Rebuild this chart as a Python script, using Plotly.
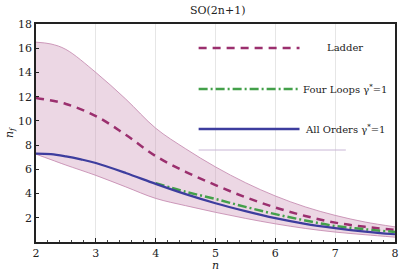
import plotly.graph_objects as go

# ---- data ----
n_band = [2, 2.25, 2.5, 3, 3.5, 4, 4.5, 5, 5.5, 6, 6.5, 7, 7.5, 8]
band_upper = [16.5, 16.35, 15.9, 14.0, 11.8, 9.4, 7.7, 6.2, 4.9, 3.8, 2.9, 2.2, 1.65, 1.25]
band_lower = [7.25, 6.8, 6.35, 5.5, 4.55, 3.6, 3.0, 2.45, 1.95, 1.5, 1.12, 0.82, 0.6, 0.4]

n_ladder = [2, 2.5, 3, 3.5, 4, 4.5, 5, 5.5, 6, 6.5, 7, 7.5, 8]
ladder = [11.9, 11.4, 10.4, 8.85, 7.1, 5.8, 4.7, 3.7, 2.85, 2.15, 1.6, 1.25, 1.0]

n_four = [4, 4.5, 5, 5.5, 6, 6.5, 7, 7.5, 8]
four_loops = [4.85, 4.15, 3.55, 2.9, 2.3, 1.78, 1.32, 1.05, 0.83]

n_all = [2, 2.25, 2.5, 2.75, 3, 3.5, 4, 4.5, 5, 5.5, 6, 6.5, 7, 7.5, 8]
all_orders = [7.3, 7.26, 7.07, 6.82, 6.52, 5.7, 4.8, 3.95, 3.2, 2.55, 1.97, 1.5, 1.15, 0.86, 0.64]

x_ticks = [2, 3, 4, 5, 6, 7, 8]
y_ticks = [2, 4, 6, 8, 10, 12, 14, 16, 18]

legend_labels = ["Ladder", "Four Loops γ<sup>*</sup>=1", "All Orders γ<sup>*</sup>=1"]

FONT = "DejaVu Serif"
C_LADDER = "#9b2f6e"
C_FOUR = "#43a04a"
C_ALL = "#3d3d9e"
C_EDGE = "#c283ab"
C_FILL = "rgba(205,150,185,0.38)"
SM = 1.0

fig = go.Figure()
fig.add_trace(go.Scatter(x=n_band, y=band_lower, mode="lines",
                         line=dict(color=C_EDGE, width=0.8, shape="spline", smoothing=SM),
                         showlegend=False, hoverinfo="skip"))
fig.add_trace(go.Scatter(x=n_band, y=band_upper, mode="lines",
                         line=dict(color=C_EDGE, width=0.8, shape="spline", smoothing=SM),
                         fill="tonexty", fillcolor=C_FILL, showlegend=False, hoverinfo="skip"))
fig.add_trace(go.Scatter(x=n_ladder, y=ladder, mode="lines",
                         line=dict(color=C_LADDER, width=2.5, dash="8px,6px", shape="spline", smoothing=SM),
                         showlegend=False))
fig.add_trace(go.Scatter(x=n_four, y=four_loops, mode="lines",
                         line=dict(color=C_FOUR, width=2.5, dash="9px,3px,2px,3px", shape="spline", smoothing=SM),
                         showlegend=False))
fig.add_trace(go.Scatter(x=n_all, y=all_orders, mode="lines",
                         line=dict(color=C_ALL, width=2.2, shape="spline", smoothing=SM),
                         showlegend=False))

# manual legend
leg_y = [0.89, 0.702, 0.518]
leg_styles = [dict(color=C_LADDER, width=2.5, dash="8px,6px"),
              dict(color=C_FOUR, width=2.5, dash="9px,3px,2px,3px"),
              dict(color=C_ALL, width=2.5)]
for lab, yy, st in zip(legend_labels, leg_y, leg_styles):
    fig.add_shape(type="line", xref="paper", yref="paper", x0=0.453, x1=0.734, y0=yy, y1=yy, line=st)
    fig.add_annotation(text=lab, xref="paper", yref="paper", x=0.86, y=yy, showarrow=False,
                       xanchor="center", yanchor="middle", font=dict(family=FONT, size=10, color="#222"))
fig.add_shape(type="line", xref="paper", yref="paper", x0=0.453, x1=0.863, y0=0.422, y1=0.422,
              line=dict(color="#c9b6d6", width=1))

# axis title n placed as annotation
fig.add_annotation(text="<i>n</i>", xref="paper", yref="paper", x=0.5, y=-0.11, showarrow=False,
                   xanchor="center", yanchor="middle", font=dict(family=FONT, size=11, color="#222"))

fig.update_layout(
    width=407, height=274,
    margin=dict(l=35, r=8, t=24, b=32),
    paper_bgcolor="white", plot_bgcolor="white",
    title=dict(text="SO(2n+1)", x=0.535, xanchor="center", y=0.962, yanchor="middle",
               font=dict(family=FONT, size=11, color="#222")),
    font=dict(family=FONT, size=11, color="#222"),
)
fig.update_xaxes(range=[2, 8], tickmode="array", tickvals=x_ticks,
                 ticks="inside", ticklen=4, tickcolor="#222",
                 showgrid=True, gridcolor="#e6e6e6", gridwidth=1,
                 showline=True, linecolor="#222", linewidth=1.5, mirror=True, zeroline=False,
                 minor=dict(dtick=0.2, ticks="inside", ticklen=2, tickcolor="#444", showgrid=False),
                 tickfont=dict(family=FONT, size=11))
fig.update_yaxes(range=[0, 18], tickvals=y_ticks, ticks="inside", ticklen=3, tickcolor="#222",
                 showgrid=False, showline=True, linecolor="#222", linewidth=1.5, mirror=True, zeroline=False,
                 title=dict(text="<i>n<sub>f</sub></i>", font=dict(family=FONT, size=11), standoff=2),
                 tickfont=dict(family=FONT, size=11))

fig.write_html("out.html", config={"displayModeBar": False},
               post_script="document.body.style.margin='0';document.body.style.overflow='hidden';")
